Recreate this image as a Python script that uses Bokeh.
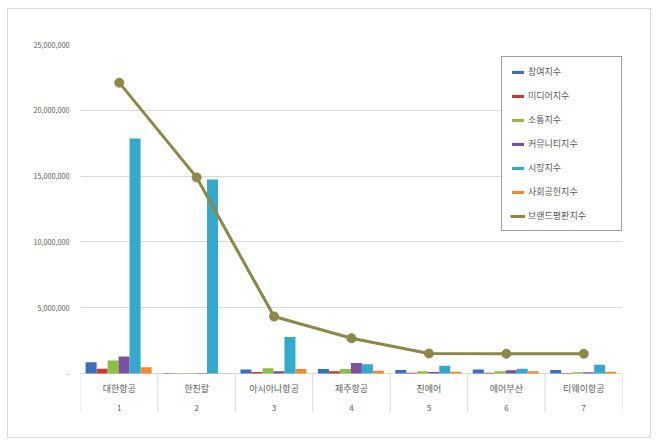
from bokeh.plotting import figure
from bokeh.models import Range1d, FixedTicker, NumeralTickFormatter, Legend, LegendItem
from bokeh.core.properties import value
from bokeh.embed import file_html
from bokeh.resources import INLINE

# ---- data ----
airlines = ["대한항공", "한진칼", "아시아나항공", "제주항공", "진에어", "에어부산", "티웨이항공"]
ranks = ["1", "2", "3", "4", "5", "6", "7"]
series_names = ["참여지수", "미디어지수", "소통지수", "커뮤니티지수", "시장지수", "사회공헌지수"]
participation = [860000, 30000, 300000, 350000, 260000, 300000, 260000]
media = [370000, 20000, 120000, 170000, 50000, 50000, 40000]
communication = [990000, 30000, 400000, 350000, 180000, 180000, 100000]
community = [1290000, 30000, 170000, 790000, 120000, 250000, 100000]
market = [17860000, 14740000, 2780000, 710000, 580000, 370000, 660000]
social = [480000, 20000, 350000, 200000, 130000, 170000, 130000]
brand = [22100000, 14900000, 4330000, 2680000, 1520000, 1500000, 1500000]
line_name = "브랜드평판지수"
y_ticks = [0, 5000000, 10000000, 15000000, 20000000, 25000000]

colors = ["#3b6fbf", "#c23a32", "#8dbf45", "#7a50a0", "#34a9cb", "#f08a2a"]
line_color = "#8c8848"
FONT = "Noto Sans CJK KR"

# ---- geometry ----
YMAX = 25000000
PX_DATA = 329.0          # pixels from 0 to YMAX
PX_BELOW = 39.0          # pixels of category area below zero
ymin = -PX_BELOW / PX_DATA * YMAX
def px(p):
    return -p / PX_DATA * YMAX

p = figure(width=644, height=430, output_backend="svg", toolbar_location=None,
           x_range=Range1d(0, len(airlines)), y_range=Range1d(ymin, YMAX),
           x_axis_location=None, min_border_left=72, min_border_right=30,
           min_border_top=35, min_border_bottom=27)
p.styles = {"margin-left": "7px", "margin-top": "8px", "border": "1px solid #d9d9d9"}
p.outline_line_color = None
p.background_fill_color = "white"
p.border_fill_color = "white"

yax = p.yaxis[0]
yax.ticker = FixedTicker(ticks=y_ticks)
yax.formatter = NumeralTickFormatter(format="0,0")
yax.major_label_overrides = {0: "-"}
yax.axis_line_color = None
yax.major_tick_line_color = None
yax.minor_tick_line_color = None
yax.major_label_text_font = FONT
yax.major_label_text_font_size = "7.2px"
yax.major_label_text_color = "#595959"
yax.major_label_standoff = 5
p.ygrid.ticker = FixedTicker(ticks=y_ticks)
p.ygrid.grid_line_color = "#d9d9d9"
p.xgrid.grid_line_color = None

n = len(airlines)
centers = [i + 0.5 for i in range(n)]
bw = 0.142
series = [participation, media, communication, community, market, social]
renderers = []
for j, (vals, c) in enumerate(zip(series, colors)):
    xs = [cx + (j - 2.5) * bw - 0.008 for cx in centers]
    r = p.vbar(x=xs, top=vals, bottom=0, width=bw, fill_color=c, line_color=None)
    renderers.append(r)

lr = p.line(x=centers, y=brand, line_color=line_color, line_width=3)
sr = p.scatter(x=centers, y=brand, size=9, fill_color=line_color, line_color=line_color)

# category separators and labels
bounds = list(range(n + 1))
p.segment(x0=bounds, y0=[0] * len(bounds), x1=bounds, y1=[ymin] * len(bounds),
          line_color="#d9d9d9", line_width=1)
p.text(x=centers, y=[px(14.5)] * n, text=airlines, text_font=value(FONT), text_font_size="9px",
       text_color="#595959", text_align="center", text_baseline="middle")
p.text(x=centers, y=[px(34)] * n, text=ranks, text_font=value(FONT), text_font_size="8px",
       text_color="#595959", text_align="center", text_baseline="middle")

items = [LegendItem(label=nm, renderers=[r]) for nm, r in zip(series_names, renderers)]
items.append(LegendItem(label=line_name, renderers=[lr, sr]))
legend = Legend(items=items, location=(421, 181), orientation="vertical",
                padding=8, margin=0, spacing=11, label_height=12, glyph_height=4,
                glyph_width=15, label_standoff=3, label_width=85,
                label_text_font=FONT, label_text_font_size="9px", label_text_color="#595959",
                border_line_color="#404040", border_line_width=1,
                background_fill_color="white", background_fill_alpha=1)
p.add_layout(legend, "center")

open("out.html", "w").write(file_html(p, INLINE))
